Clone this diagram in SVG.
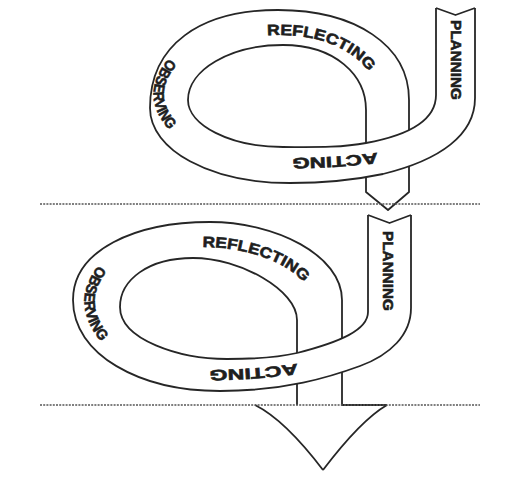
<svg xmlns="http://www.w3.org/2000/svg" width="514" height="493" viewBox="0 0 514 493">
<style>
.edge{fill:none;stroke:#262626;stroke-width:1.8;stroke-linejoin:round}
.band{fill:#fff;stroke:none}
.tail{fill:#fff;stroke:#262626;stroke-width:1.8;stroke-linejoin:round}
.lbl{font-family:"Liberation Sans",Arial,sans-serif;font-weight:bold;font-size:15px;fill:#1e1e1e;stroke:#1e1e1e;stroke-width:0.6}
.dot{fill:none;stroke:#555;stroke-width:1.5;stroke-dasharray:2 1.2}
</style>
<defs>
<path id="tp1r" d="M176,104 C176,62 220,35 280,35 C338,35 380,65 380,105"/>
<path id="tp1o" d="M171,56 Q135,95 173,134"/>
<path id="tp1a" d="M382,152 C355,156 320,158 288,158"/>
<path id="tp2r" d="M103,303 C103,268 145,247 203,247 C258,247 313,272 313,305"/>
<path id="tp2o" d="M101,262 Q65,305 107,348"/>
<path id="tp2a" d="M302,363 C275,367 245,370 205,370"/>
</defs>
<rect width="514" height="493" fill="#fff"/>

<g id="cycle1">
<path class="tail" d="M366,110 V192 L388,210 L409,192 V110"/>
<path class="band" d="M436,8 L455.5,15 L475,8 V98 C475,135 440,160 383,174 C350,181 320,183 290,183 C210,183 150,150 150,108 C150,45 200,10 278,10 C355,10 409,45 409,100 V110 L366,110 C366,75 335,45 283,45 C230,45 188,70 188,100 C188,125 230,147 283,147 C310,147 340,148 366,143 C410,135 436,120 436,95 Z"/>
<path class="edge" d="M475,8 V98 C475,135 440,160 383,174 C350,181 320,183 290,183 C210,183 150,150 150,108 C150,45 200,10 278,10 C355,10 409,45 409,100 V110"/>
<path class="edge" d="M436,8 V95 C436,120 410,135 366,143 C340,148 310,147 283,147 C230,147 188,125 188,100 C188,70 230,45 283,45 C335,45 366,75 366,110"/>
<path class="edge" d="M436,8 L455.5,15 L475,8"/>
<text class="lbl" transform="translate(450.5,20) rotate(90)" textLength="80" lengthAdjust="spacingAndGlyphs">PLANNING</text>
<text class="lbl"><textPath href="#tp1r" startOffset="126" textLength="112" lengthAdjust="spacingAndGlyphs">REFLECTING</textPath></text>
<text class="lbl" font-size="14"><textPath href="#tp1o" startOffset="3" textLength="80" lengthAdjust="spacingAndGlyphs">OBSERVING</textPath></text>
<text class="lbl"><textPath href="#tp1a" startOffset="5" textLength="85" lengthAdjust="spacingAndGlyphs">ACTING</textPath></text>
</g>

<g id="cycle2">
<path class="edge" d="M297,320 V405 M342,320 V405 H387"/>
<path class="band" d="M368,215 L389.5,223 L411,215 V308 C411,335 390,355 360,366 C330,377 285,391 220,391 C140,391 73,355 73,300 C73,250 135,222 210,222 C275,222 342,255 342,300 V320 L297,320 C297,290 240,258 193,258 C148,258 120,280 120,307 C120,340 180,359 227,359 C255,359 280,357 297,353 C340,342 368,330 368,312 Z"/>
<path class="edge" d="M411,215 V308 C411,335 390,355 360,366 C330,377 285,391 220,391 C140,391 73,355 73,300 C73,250 135,222 210,222 C275,222 342,255 342,300 V320"/>
<path class="edge" d="M368,215 V312 C368,330 340,342 297,353 C280,357 255,359 227,359 C180,359 120,340 120,307 C120,280 148,258 193,258 C240,258 297,290 297,320"/>
<path class="edge" d="M368,215 L389.5,223 L411,215"/>
<text class="lbl" transform="translate(382.5,231) rotate(90)" textLength="80" lengthAdjust="spacingAndGlyphs">PLANNING</text>
<text class="lbl"><textPath href="#tp2r" startOffset="126" textLength="110" lengthAdjust="spacingAndGlyphs">REFLECTING</textPath></text>
<text class="lbl" font-size="14"><textPath href="#tp2o" startOffset="4" textLength="84" lengthAdjust="spacingAndGlyphs">OBSERVING</textPath></text>
<text class="lbl"><textPath href="#tp2a" startOffset="5" textLength="88" lengthAdjust="spacingAndGlyphs">ACTING</textPath></text>
</g>

<g id="arrowhead">
<path class="edge" d="M255,405 Q285,420 323,470 M387,405 Q361,420 323,470"/>
</g>

<g id="connectors">
<path class="dot" d="M40,204 H480"/>
<path class="dot" d="M40,405 H480"/>
</g>
</svg>
